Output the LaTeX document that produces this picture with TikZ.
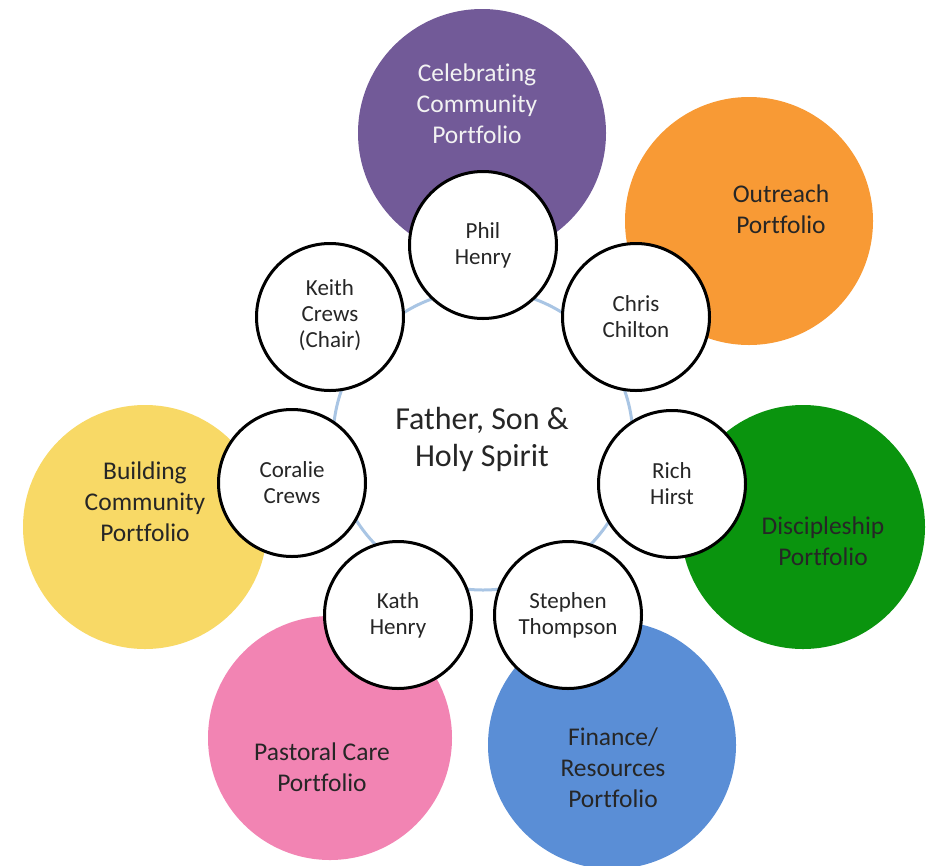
\documentclass[tikz,border=0pt]{standalone}
\usepackage{fontspec}
\setmainfont{Carlito}[RawFeature={-liga;-dlig;-calt;-clig}]
\definecolor{cpurple}{HTML}{725A98}
\definecolor{corange}{HTML}{F89A35}
\definecolor{cgreen}{HTML}{0A940E}
\definecolor{cblue}{HTML}{5A8ED6}
\definecolor{cpink}{HTML}{F284B3}
\definecolor{cyellow}{HTML}{F8D966}
\definecolor{cring}{HTML}{A9C5E4}
\definecolor{ctext}{HTML}{262626}
\definecolor{clight}{HTML}{F2F2F2}
\tikzset{
  portfolio/.style={circle, inner sep=0pt, minimum size=248pt, draw=none},
  person/.style={circle, inner sep=0pt, minimum size=147pt, draw=black, line width=3pt, fill=white},
  ptext/.style={align=center, text=ctext, font=\fontsize{25.5pt}{31pt}\selectfont, inner sep=0pt},
  ntext/.style={align=center, text=ctext, font=\fontsize{23pt}{26pt}\selectfont, inner sep=0pt},
  ctr/.style={align=center, text=ctext, font=\fontsize{32pt}{37pt}\selectfont, inner sep=0pt},
  ringst/.style={circle, inner sep=0pt, minimum size=300pt, draw=cring, line width=3pt}
}
\begin{document}
\begin{tikzpicture}[x=1pt,y=-1pt]
\useasboundingbox (0,0) rectangle (926,865);
\fill[white] (0,0) rectangle (926,865);
% ring
\node[ringst] (ring) at (483,440) {};
% portfolio circles
\node[portfolio, fill=cpurple] (celeb) at (482,133) {};
\node[portfolio, fill=corange] (outr) at (749,221) {};
\node[portfolio, fill=cgreen, minimum size=244pt] (disc) at (803,527) {};
\node[portfolio, fill=cblue] (fin) at (612,745) {};
\node[portfolio, fill=cpink, minimum size=244pt] (past) at (330,738) {};
\node[portfolio, fill=cyellow, minimum size=244pt] (build) at (145,527) {};
% person circles
\node[person] (phil) at (483,245) {};
\node[person] (chris) at (636,317) {};
\node[person] (rich) at (672,484) {};
\node[person] (steph) at (568,615) {};
\node[person] (kath) at (398,615) {};
\node[person] (cor) at (292,483) {};
\node[person] (keith) at (330,317) {};
% centre text
\node[ctr] (god) at (482,439) {Father, Son \&\\Holy Spirit};
% person names
\node[ntext] (philT) at (phil) {Phil\\Henry};
\node[ntext] (chrisT) at (chris) {Chris\\Chilton};
\node[ntext] (richT) at (rich) {Rich\\Hirst};
\node[ntext] (stephT) at (steph) {Stephen\\Thompson};
\node[ntext] (kathT) at (kath) {Kath\\Henry};
\node[ntext] (corT) at (cor) {Coralie\\Crews};
\node[ntext] (keithT) at (330,315) {Keith\\Crews\\(Chair)};
% portfolio labels
\node[ptext, text=clight] (celebT) at (477,104) {Celebrat\kern0pt ing\\Community\\Portfolio};
\node[ptext] (outrT) at (781,209) {Outreach\\Portfolio};
\node[ptext] (discT) at (823,541) {Discipleship\\Portfolio};
\node[ptext] (finT) at (613,768) {Finance/\\Resources\\Portfolio};
\node[ptext] (pastT) at (322,767) {Pastoral Care\\Portfolio};
\node[ptext] (buildT) at (145,502) {Building\\Community\\Portfolio};
\end{tikzpicture}
\end{document}
